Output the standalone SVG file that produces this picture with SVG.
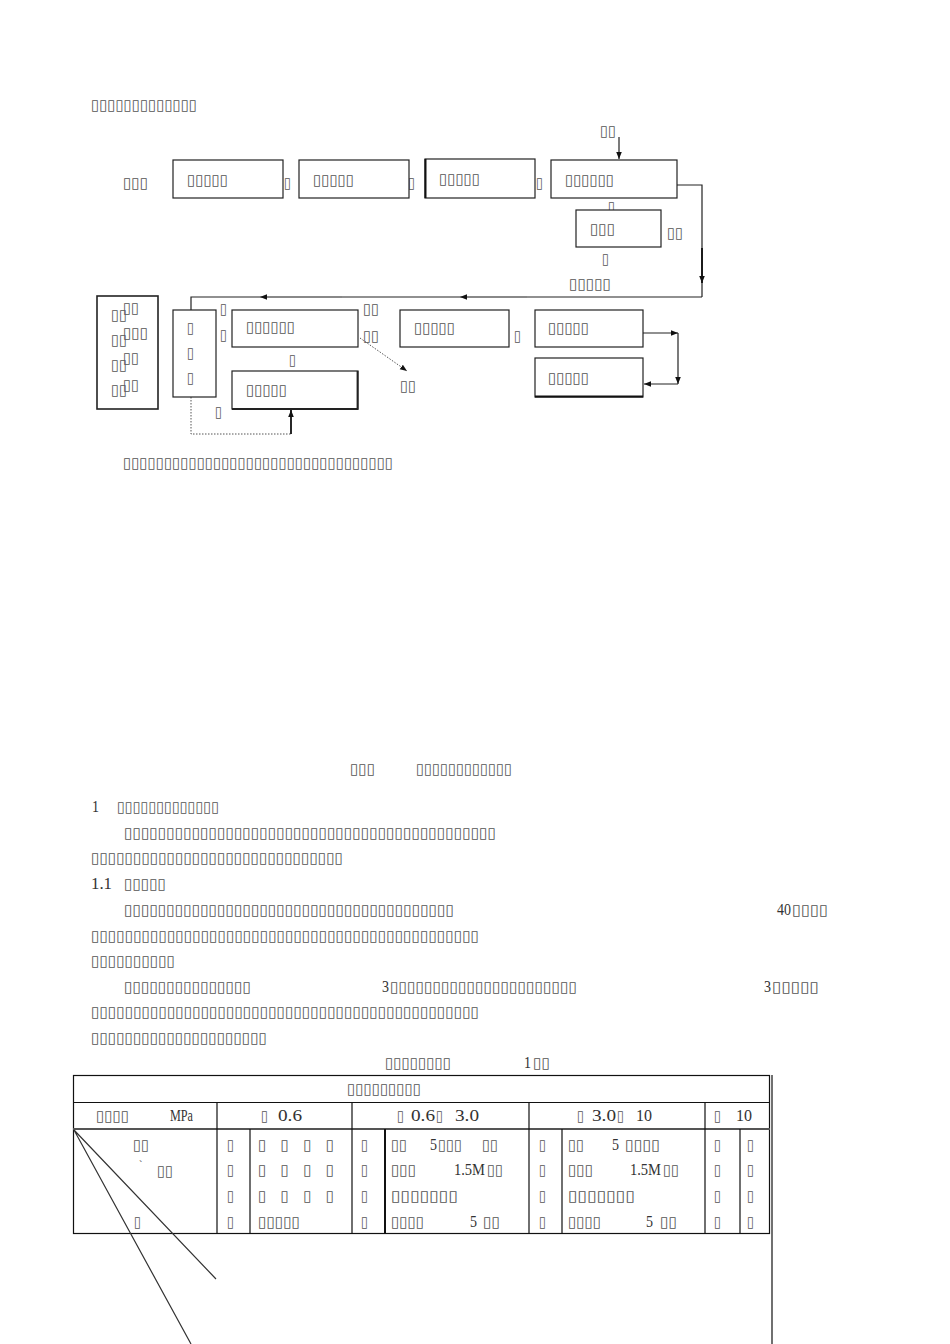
<svg xmlns="http://www.w3.org/2000/svg" width="950" height="1344" viewBox="0 0 950 1344">
<style>
.t{font-family:"DejaVu Sans",sans-serif;font-size:15px;fill:#555}
.n{font-family:"Liberation Serif",serif;font-size:17px;fill:#333}
.bx{fill:#fff;stroke:#222;stroke-width:1.2}
.ln{fill:none;stroke:#222;stroke-width:1.2}
.dot{fill:none;stroke:#555;stroke-width:1;stroke-dasharray:1.5 1.5}
.tb{fill:none;stroke:#111;stroke-width:1.2}
</style>
<defs>
<marker id="ah" viewBox="0 0 10 10" refX="10" refY="5" markerWidth="7" markerHeight="7" markerUnits="userSpaceOnUse" orient="auto"><path d="M0,1 L10,5 L0,9 Z" fill="#111"/></marker>
</defs>
<rect width="950" height="1344" fill="#fff"/>

<text class="t" x="91" y="110" textLength="106" lengthAdjust="spacingAndGlyphs">▯▯▯▯▯▯▯▯▯▯▯▯▯</text>

<g id="connectors">
<path class="ln" d="M619,137 V159" marker-end="url(#ah)"/>
<path class="ln" d="M677,185 H702 V297"/>
<path d="M702,248 V283" stroke="#111" stroke-width="1.8" marker-end="url(#ah)"/>
<path class="ln" d="M702,297 H191 V310"/>
<path d="M527,297 H460" stroke="#888" stroke-width="2" marker-end="url(#ah)"/>
<path d="M342,297 H260" stroke="#888" stroke-width="2" marker-end="url(#ah)"/>
<path class="dot" d="M191,397 V434 H291"/>
<path d="M291,434 V410" stroke="#111" stroke-width="1.8" marker-end="url(#ah)"/>
<path class="dot" d="M360,338 L407,371" marker-end="url(#ah)"/>
<path class="ln" d="M643,333 H678" marker-end="url(#ah)"/>
<path class="ln" d="M678,333 V384" marker-end="url(#ah)"/>
<path class="ln" d="M678,384 H644" marker-end="url(#ah)"/>
</g>

<g id="flow-labels">
<text class="t" x="600" y="136" textLength="16" lengthAdjust="spacingAndGlyphs">▯▯</text>
<text class="t" x="123" y="188" textLength="25" lengthAdjust="spacingAndGlyphs">▯▯▯</text>
<text class="t" x="284" y="188" textLength="7" lengthAdjust="spacingAndGlyphs">▯</text>
<text class="t" x="408" y="188" textLength="7" lengthAdjust="spacingAndGlyphs">▯</text>
<text class="t" x="536" y="188" textLength="7" lengthAdjust="spacingAndGlyphs">▯</text>
<text class="t" x="608" y="212" textLength="7" lengthAdjust="spacingAndGlyphs">▯</text>
<text class="t" x="667" y="238" textLength="16" lengthAdjust="spacingAndGlyphs">▯▯</text>
<text class="t" x="602" y="264" textLength="7" lengthAdjust="spacingAndGlyphs">▯</text>
<text class="t" x="569" y="289" textLength="42" lengthAdjust="spacingAndGlyphs">▯▯▯▯▯</text>
<text class="t" x="220" y="314" textLength="7" lengthAdjust="spacingAndGlyphs">▯</text>
<text class="t" x="220" y="340" textLength="7" lengthAdjust="spacingAndGlyphs">▯</text>
<text class="t" x="289" y="365" textLength="7" lengthAdjust="spacingAndGlyphs">▯</text>
<text class="t" x="215" y="417" textLength="7" lengthAdjust="spacingAndGlyphs">▯</text>
<text class="t" x="363" y="314" textLength="16" lengthAdjust="spacingAndGlyphs">▯▯</text>
<text class="t" x="363" y="341" textLength="16" lengthAdjust="spacingAndGlyphs">▯▯</text>
<text class="t" x="400" y="391" textLength="16" lengthAdjust="spacingAndGlyphs">▯▯</text>
<text class="t" x="514" y="341" textLength="7" lengthAdjust="spacingAndGlyphs">▯</text>
</g>

<g id="n1"><rect class="bx" x="173" y="160" width="110" height="38"/><text class="t" x="187" y="185" textLength="41" lengthAdjust="spacingAndGlyphs">▯▯▯▯▯</text></g>
<g id="n2"><rect class="bx" x="299" y="160" width="110" height="38"/><text class="t" x="313" y="185" textLength="41" lengthAdjust="spacingAndGlyphs">▯▯▯▯▯</text></g>
<g id="n3"><rect class="bx" x="425" y="159" width="110" height="39"/><path d="M425.5,159 V198" stroke="#111" stroke-width="2"/><text class="t" x="439" y="184" textLength="41" lengthAdjust="spacingAndGlyphs">▯▯▯▯▯</text></g>
<g id="n4"><rect class="bx" x="551" y="160" width="126" height="38"/><text class="t" x="565" y="185" textLength="49" lengthAdjust="spacingAndGlyphs">▯▯▯▯▯▯</text></g>
<g id="n5"><rect class="bx" x="576" y="210" width="85" height="37"/><text class="t" x="590" y="234" textLength="25" lengthAdjust="spacingAndGlyphs">▯▯▯</text></g>

<g id="n6"><rect class="bx" x="97" y="296" width="61" height="113" style="stroke-width:1.6"/>
<text class="t" x="111" y="320" textLength="16" lengthAdjust="spacingAndGlyphs">▯▯</text>
<text class="t" x="111" y="345" textLength="16" lengthAdjust="spacingAndGlyphs">▯▯</text>
<text class="t" x="111" y="370" textLength="16" lengthAdjust="spacingAndGlyphs">▯▯</text>
<text class="t" x="111" y="395" textLength="16" lengthAdjust="spacingAndGlyphs">▯▯</text>
<text class="t" x="123" y="313" textLength="16" lengthAdjust="spacingAndGlyphs">▯▯</text>
<text class="t" x="123" y="338" textLength="25" lengthAdjust="spacingAndGlyphs">▯▯▯</text>
<text class="t" x="123" y="363" textLength="16" lengthAdjust="spacingAndGlyphs">▯▯</text>
<text class="t" x="123" y="390" textLength="16" lengthAdjust="spacingAndGlyphs">▯▯</text>
</g>
<g id="n7"><rect class="bx" x="173" y="310" width="43" height="87"/>
<text class="t" x="187" y="333" textLength="7" lengthAdjust="spacingAndGlyphs">▯</text><text class="t" x="187" y="358" textLength="7" lengthAdjust="spacingAndGlyphs">▯</text><text class="t" x="187" y="383" textLength="7" lengthAdjust="spacingAndGlyphs">▯</text></g>
<g id="n8"><rect class="bx" x="232" y="310" width="126" height="37"/><text class="t" x="246" y="332" textLength="49" lengthAdjust="spacingAndGlyphs">▯▯▯▯▯▯</text></g>
<g id="n9"><rect class="bx" x="232" y="371" width="126" height="38"/><path d="M357.5,371 V409 H232" class="ln" style="stroke-width:1.8"/><text class="t" x="246" y="395" textLength="41" lengthAdjust="spacingAndGlyphs">▯▯▯▯▯</text></g>
<g id="n10"><rect class="bx" x="400" y="310" width="109" height="37"/><text class="t" x="414" y="333" textLength="41" lengthAdjust="spacingAndGlyphs">▯▯▯▯▯</text></g>
<g id="n11"><rect class="bx" x="535" y="310" width="108" height="37"/><text class="t" x="548" y="333" textLength="41" lengthAdjust="spacingAndGlyphs">▯▯▯▯▯</text></g>
<g id="n12"><rect class="bx" x="535" y="358" width="108" height="39"/><path d="M535,396.5 H643" stroke="#111" stroke-width="2"/><text class="t" x="548" y="383" textLength="41" lengthAdjust="spacingAndGlyphs">▯▯▯▯▯</text></g>

<text class="t" x="123" y="468" textLength="270" lengthAdjust="spacingAndGlyphs">▯▯▯▯▯▯▯▯▯▯▯▯▯▯▯▯▯▯▯▯▯▯▯▯▯▯▯▯▯▯▯▯▯</text>

<g id="body">
<text class="t" x="350" y="774" textLength="25" lengthAdjust="spacingAndGlyphs">▯▯▯</text>
<text class="t" x="416" y="774" textLength="96" lengthAdjust="spacingAndGlyphs">▯▯▯▯▯▯▯▯▯▯▯▯</text>
<text class="n" x="92" y="812" textLength="7" lengthAdjust="spacingAndGlyphs">1</text>
<text class="t" x="117" y="812" textLength="102" lengthAdjust="spacingAndGlyphs">▯▯▯▯▯▯▯▯▯▯▯▯▯</text>
<text class="t" x="124" y="838" textLength="372" lengthAdjust="spacingAndGlyphs">▯▯▯▯▯▯▯▯▯▯▯▯▯▯▯▯▯▯▯▯▯▯▯▯▯▯▯▯▯▯▯▯▯▯▯▯▯▯▯▯▯▯▯▯</text>
<text class="t" x="91" y="863" textLength="252" lengthAdjust="spacingAndGlyphs">▯▯▯▯▯▯▯▯▯▯▯▯▯▯▯▯▯▯▯▯▯▯▯▯▯▯▯▯▯▯</text>
<text class="n" x="91" y="889" textLength="21" lengthAdjust="spacingAndGlyphs">1.1</text>
<text class="t" x="124" y="889" textLength="42" lengthAdjust="spacingAndGlyphs">▯▯▯▯▯</text>
<text class="t" x="124" y="915" textLength="330" lengthAdjust="spacingAndGlyphs">▯▯▯▯▯▯▯▯▯▯▯▯▯▯▯▯▯▯▯▯▯▯▯▯▯▯▯▯▯▯▯▯▯▯▯▯▯▯▯</text>
<text class="n" x="777" y="915" textLength="14" lengthAdjust="spacingAndGlyphs">40</text>
<text class="t" x="792" y="915" textLength="36" lengthAdjust="spacingAndGlyphs">▯▯▯▯</text>
<text class="t" x="91" y="941" textLength="388" lengthAdjust="spacingAndGlyphs">▯▯▯▯▯▯▯▯▯▯▯▯▯▯▯▯▯▯▯▯▯▯▯▯▯▯▯▯▯▯▯▯▯▯▯▯▯▯▯▯▯▯▯▯▯▯</text>
<text class="t" x="91" y="966" textLength="84" lengthAdjust="spacingAndGlyphs">▯▯▯▯▯▯▯▯▯▯</text>
<text class="t" x="124" y="992" textLength="127" lengthAdjust="spacingAndGlyphs">▯▯▯▯▯▯▯▯▯▯▯▯▯▯▯</text>
<text class="n" x="382" y="992" textLength="7" lengthAdjust="spacingAndGlyphs">3</text>
<text class="t" x="390" y="992" textLength="187" lengthAdjust="spacingAndGlyphs">▯▯▯▯▯▯▯▯▯▯▯▯▯▯▯▯▯▯▯▯▯▯</text>
<text class="n" x="764" y="992" textLength="7" lengthAdjust="spacingAndGlyphs">3</text>
<text class="t" x="772" y="992" textLength="47" lengthAdjust="spacingAndGlyphs">▯▯▯▯▯</text>
<text class="t" x="91" y="1017" textLength="388" lengthAdjust="spacingAndGlyphs">▯▯▯▯▯▯▯▯▯▯▯▯▯▯▯▯▯▯▯▯▯▯▯▯▯▯▯▯▯▯▯▯▯▯▯▯▯▯▯▯▯▯▯▯▯▯</text>
<text class="t" x="91" y="1043" textLength="176" lengthAdjust="spacingAndGlyphs">▯▯▯▯▯▯▯▯▯▯▯▯▯▯▯▯▯▯▯▯▯</text>
<text class="t" x="385" y="1068" textLength="66" lengthAdjust="spacingAndGlyphs">▯▯▯▯▯▯▯▯</text>
<text class="n" x="524" y="1068" textLength="7" lengthAdjust="spacingAndGlyphs">1</text>
<text class="t" x="533" y="1068" textLength="17" lengthAdjust="spacingAndGlyphs">▯▯</text>
</g>

<g id="table">
<rect class="tb" x="73.5" y="1075.5" width="696" height="158"/>
<path class="tb" d="M772,1075 V1344"/>
<path class="tb" d="M73,1102.5 H770"/>
<path d="M73,1129 H770" stroke="#555" stroke-width="2"/>
<path class="tb" d="M217,1102 V1234 M352,1102 V1234 M529,1102 V1234 M705,1102 V1234"/>
<path class="tb" d="M250,1129 V1234 M562,1129 V1234 M740,1129 V1234"/>
<path d="M385,1129 V1234" stroke="#111" stroke-width="2"/>
<path d="M74,1130 L216,1279 M74,1130 L191,1344" stroke="#333" stroke-width="1.2" fill="none"/>

<text class="t" x="347" y="1094" textLength="74" lengthAdjust="spacingAndGlyphs">▯▯▯▯▯▯▯▯▯</text>
<text class="t" x="96" y="1121" textLength="33" lengthAdjust="spacingAndGlyphs">▯▯▯▯</text>
<text class="n" x="170" y="1121" textLength="23" lengthAdjust="spacingAndGlyphs">MPa</text>
<text class="t" x="261" y="1121" textLength="7" lengthAdjust="spacingAndGlyphs">▯</text>
<text class="n" x="278" y="1121" textLength="24" lengthAdjust="spacingAndGlyphs">0.6</text>
<text class="t" x="397" y="1121" textLength="7" lengthAdjust="spacingAndGlyphs">▯</text>
<text class="n" x="411" y="1121" textLength="24" lengthAdjust="spacingAndGlyphs">0.6</text>
<text class="t" x="436" y="1121" textLength="7" lengthAdjust="spacingAndGlyphs">▯</text>
<text class="n" x="455" y="1121" textLength="24" lengthAdjust="spacingAndGlyphs">3.0</text>
<text class="t" x="577" y="1121" textLength="7" lengthAdjust="spacingAndGlyphs">▯</text>
<text class="n" x="592" y="1121" textLength="24" lengthAdjust="spacingAndGlyphs">3.0</text>
<text class="t" x="617" y="1121" textLength="7" lengthAdjust="spacingAndGlyphs">▯</text>
<text class="n" x="636" y="1121" textLength="16" lengthAdjust="spacingAndGlyphs">10</text>
<text class="t" x="714" y="1121" textLength="7" lengthAdjust="spacingAndGlyphs">▯</text>
<text class="n" x="736" y="1121" textLength="16" lengthAdjust="spacingAndGlyphs">10</text>

<text class="t" x="133" y="1150" textLength="16" lengthAdjust="spacingAndGlyphs">▯▯</text>
<text class="n" x="139" y="1168" style="font-size:10px">`</text>
<text class="t" x="157" y="1176" textLength="16" lengthAdjust="spacingAndGlyphs">▯▯</text>
<text class="t" x="134" y="1227" textLength="7" lengthAdjust="spacingAndGlyphs">▯</text>

<text class="t" x="227" y="1150" textLength="7" lengthAdjust="spacingAndGlyphs">▯</text><text class="t" x="227" y="1175" textLength="7" lengthAdjust="spacingAndGlyphs">▯</text><text class="t" x="227" y="1201" textLength="7" lengthAdjust="spacingAndGlyphs">▯</text><text class="t" x="227" y="1227" textLength="7" lengthAdjust="spacingAndGlyphs">▯</text>
<text class="t" x="258" y="1150" textLength="76" lengthAdjust="spacing">▯ ▯ ▯ ▯</text>
<text class="t" x="258" y="1175" textLength="76" lengthAdjust="spacing">▯ ▯ ▯ ▯</text>
<text class="t" x="258" y="1201" textLength="76" lengthAdjust="spacing">▯ ▯ ▯ ▯</text>
<text class="t" x="258" y="1227" textLength="42" lengthAdjust="spacingAndGlyphs">▯▯▯▯▯</text>
<text class="t" x="361" y="1150" textLength="7" lengthAdjust="spacingAndGlyphs">▯</text><text class="t" x="361" y="1175" textLength="7" lengthAdjust="spacingAndGlyphs">▯</text><text class="t" x="361" y="1201" textLength="7" lengthAdjust="spacingAndGlyphs">▯</text><text class="t" x="361" y="1227" textLength="7" lengthAdjust="spacingAndGlyphs">▯</text>

<text class="t" x="391" y="1150" textLength="16" lengthAdjust="spacingAndGlyphs">▯▯</text>
<text class="n" x="430" y="1150" textLength="7" lengthAdjust="spacingAndGlyphs">5</text>
<text class="t" x="438" y="1150" textLength="24" lengthAdjust="spacingAndGlyphs">▯▯▯</text>
<text class="t" x="482" y="1150" textLength="16" lengthAdjust="spacingAndGlyphs">▯▯</text>
<text class="t" x="391" y="1175" textLength="25" lengthAdjust="spacingAndGlyphs">▯▯▯</text>
<text class="n" x="454" y="1175" textLength="31" lengthAdjust="spacingAndGlyphs">1.5M</text>
<text class="t" x="487" y="1175" textLength="16" lengthAdjust="spacingAndGlyphs">▯▯</text>
<text class="t" x="391" y="1201" textLength="67" lengthAdjust="spacingAndGlyphs">▯▯▯▯▯▯▯</text>
<text class="t" x="391" y="1227" textLength="33" lengthAdjust="spacingAndGlyphs">▯▯▯▯</text>
<text class="n" x="470" y="1227" textLength="7" lengthAdjust="spacingAndGlyphs">5</text>
<text class="t" x="483" y="1227" textLength="17" lengthAdjust="spacingAndGlyphs">▯▯</text>

<text class="t" x="539" y="1150" textLength="7" lengthAdjust="spacingAndGlyphs">▯</text><text class="t" x="539" y="1175" textLength="7" lengthAdjust="spacingAndGlyphs">▯</text><text class="t" x="539" y="1201" textLength="7" lengthAdjust="spacingAndGlyphs">▯</text><text class="t" x="539" y="1227" textLength="7" lengthAdjust="spacingAndGlyphs">▯</text>
<text class="t" x="568" y="1150" textLength="16" lengthAdjust="spacingAndGlyphs">▯▯</text>
<text class="n" x="612" y="1150" textLength="7" lengthAdjust="spacingAndGlyphs">5</text>
<text class="t" x="625" y="1150" textLength="35" lengthAdjust="spacingAndGlyphs">▯▯▯▯</text>
<text class="t" x="568" y="1175" textLength="25" lengthAdjust="spacingAndGlyphs">▯▯▯</text>
<text class="n" x="630" y="1175" textLength="31" lengthAdjust="spacingAndGlyphs">1.5M</text>
<text class="t" x="663" y="1175" textLength="16" lengthAdjust="spacingAndGlyphs">▯▯</text>
<text class="t" x="568" y="1201" textLength="67" lengthAdjust="spacingAndGlyphs">▯▯▯▯▯▯▯</text>
<text class="t" x="568" y="1227" textLength="33" lengthAdjust="spacingAndGlyphs">▯▯▯▯</text>
<text class="n" x="646" y="1227" textLength="7" lengthAdjust="spacingAndGlyphs">5</text>
<text class="t" x="660" y="1227" textLength="17" lengthAdjust="spacingAndGlyphs">▯▯</text>

<text class="t" x="714" y="1150" textLength="7" lengthAdjust="spacingAndGlyphs">▯</text><text class="t" x="714" y="1175" textLength="7" lengthAdjust="spacingAndGlyphs">▯</text><text class="t" x="714" y="1201" textLength="7" lengthAdjust="spacingAndGlyphs">▯</text><text class="t" x="714" y="1227" textLength="7" lengthAdjust="spacingAndGlyphs">▯</text>
<text class="t" x="747" y="1150" textLength="7" lengthAdjust="spacingAndGlyphs">▯</text><text class="t" x="747" y="1175" textLength="7" lengthAdjust="spacingAndGlyphs">▯</text><text class="t" x="747" y="1201" textLength="7" lengthAdjust="spacingAndGlyphs">▯</text><text class="t" x="747" y="1227" textLength="7" lengthAdjust="spacingAndGlyphs">▯</text>
</g>
</svg>
